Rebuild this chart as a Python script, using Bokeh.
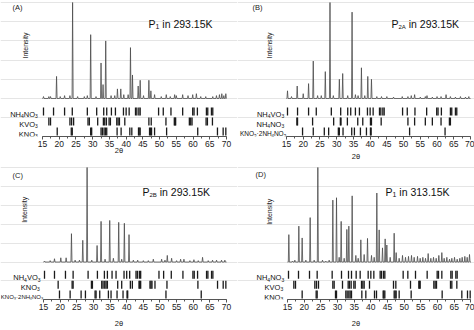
from bokeh.plotting import figure
from bokeh.layouts import gridplot
from bokeh.models import Range1d, SingleIntervalTicker
from bokeh.core.properties import value
from bokeh.embed import file_html
from bokeh.resources import INLINE

# ---------------- data (2theta positions / normalised intensities) ----------------
NH4_ROW = [15.3, 18.3, 21.6, 23.9, 28.4, 31.2, 33.3, 34.2, 35.6, 36.8, 39.2, 40.0, 40.9,
           42.8, 43.2, 43.8, 44.2, 49.7, 51.1, 53.4, 56.9, 59.9, 60.3, 61.3, 64.0, 64.4,
           65.5, 65.9]
KVO3_ROW = [16.9, 17.4, 23.2, 23.7, 24.3, 28.6, 29.0, 31.5, 33.2, 33.6, 34.1, 34.9, 35.3,
            37.2, 37.6, 38.0, 39.6, 46.8, 47.5, 51.9, 54.4, 54.6, 54.8, 58.9, 59.3, 59.7,
            63.9, 64.3, 65.8]
KNO3_ROW = [19.4, 23.6, 23.9, 29.4, 29.7, 32.5, 32.9, 33.4, 33.8, 34.2, 37.3, 38.5, 41.1,
            41.7, 43.7, 43.9, 44.2, 47.0, 47.3, 47.6, 48.5, 52.1, 61.4, 67.3, 69.0, 69.8]
NH4NO3_ROW = [18.1, 18.3, 22.8, 29.1, 31.1, 31.3, 33.2, 36.3, 37.8, 40.1, 40.4, 43.3, 51.3,
              53.3, 56.5, 58.6, 61.2, 63.7, 64.0]
DOUBLE_ROW = [19.8, 23.0, 26.3, 27.6, 30.5, 30.8, 31.9, 34.5, 35.3, 37.1, 38.9, 40.1, 40.3,
              51.8, 62.4]

A_POS = [15.3, 16.9, 17.4, 19.2, 20.3, 21.6, 23.2, 24.0, 25.5, 27.5, 28.4, 29.4, 31.0, 32.5,
         33.1, 33.9, 35.5, 36.6, 37.4, 38.4, 39.3, 40.6, 41.3, 41.9, 43.6, 44.2, 45.2, 46.8,
         47.4, 48.5, 50.5, 52.0, 53.2, 54.5, 55.0, 56.9, 58.5, 59.9, 61.0, 62.3, 63.8, 65.9,
         67.0, 67.9, 68.6, 69.2, 69.8]
A_INT = [0.02, 0.02, 0.02, 0.23, 0.02, 0.03, 0.03, 1.00, 0.02, 0.02, 0.03, 0.665, 0.02, 0.37,
         0.145, 0.60, 0.03, 0.03, 0.10, 0.10, 0.04, 0.04, 0.53, 0.245, 0.13, 0.19, 0.03, 0.19,
         0.08, 0.04, 0.02, 0.04, 0.02, 0.04, 0.03, 0.04, 0.03, 0.04, 0.05, 0.02, 0.02, 0.02,
         0.03, 0.04, 0.05, 0.03, 0.05]

B_POS = [15.3, 16.5, 18.2, 20.0, 21.6, 23.0, 24.3, 25.4, 26.6, 28.0, 29.0, 30.8, 31.8, 33.3,
         34.6, 35.6, 36.4, 37.4, 38.4, 39.3, 40.4, 42.0, 43.4, 45.0, 47.0, 49.6, 51.3, 52.3,
         53.3, 55.0, 56.5, 57.0, 58.6, 60.0, 61.2, 62.7, 64.0, 65.5, 67.0, 68.5, 69.5]
B_INT = [0.08, 0.02, 0.13, 0.05, 0.155, 0.39, 0.03, 0.03, 0.28, 1.00, 0.03, 0.20, 0.26, 0.03,
         0.90, 0.04, 0.03, 0.32, 0.03, 0.23, 0.20, 0.02, 0.02, 0.02, 0.015, 0.02, 0.02, 0.03,
         0.04, 0.015, 0.02, 0.03, 0.015, 0.02, 0.02, 0.04, 0.02, 0.015, 0.02, 0.015, 0.02]

C_POS = [15.3, 17.0, 18.3, 20.2, 21.8, 23.4, 24.5, 25.8, 26.8, 28.1, 29.5, 31.1, 32.3, 33.5,
         34.9, 36.0, 37.6, 38.5, 39.3, 40.7, 42.0, 43.3, 45.0, 46.5, 48.0, 50.5, 51.5, 52.2,
         53.5, 55.0, 56.2, 57.2, 59.0, 60.2, 61.5, 62.8, 64.5, 65.8, 67.0, 68.5, 69.5]
C_INT = [0.01, 0.015, 0.035, 0.045, 0.045, 0.30, 0.02, 0.02, 0.23, 1.00, 0.02, 0.175, 0.43,
         0.03, 0.44, 0.04, 0.42, 0.03, 0.41, 0.29, 0.02, 0.02, 0.015, 0.015, 0.03, 0.03, 0.02,
         0.07, 0.04, 0.015, 0.03, 0.03, 0.015, 0.025, 0.015, 0.05, 0.015, 0.02, 0.02, 0.02,
         0.02]

D_POS = [15.4, 16.5, 17.2, 18.4, 19.4, 20.5, 21.8, 23.0, 24.1, 25.5, 26.5, 27.5, 28.6, 29.7,
         30.5, 31.1, 32.0, 32.8, 33.4, 34.4, 35.5, 36.2, 37.0, 38.0, 39.0, 40.2, 41.0, 41.8,
         42.5, 43.5, 44.3, 44.8, 45.8, 47.0, 47.6, 48.5, 49.5, 50.4, 51.3, 52.2, 53.0, 54.0,
         54.8, 55.6, 56.4, 57.2, 58.0, 58.8, 59.6, 60.4, 61.3, 62.0, 62.8, 63.6, 64.3, 65.1,
         65.9, 66.7, 67.4, 68.2, 68.9, 69.6]
D_INT = [0.29, 0.01, 0.02, 0.38, 0.255, 0.02, 0.47, 0.02, 1.00, 0.02, 0.01, 0.02, 0.655, 0.68,
         0.05, 0.43, 0.04, 0.345, 0.38, 0.70, 0.07, 0.04, 0.235, 0.08, 0.25, 0.07, 0.05, 0.73,
         0.34, 0.15, 0.245, 0.18, 0.05, 0.305, 0.10, 0.04, 0.07, 0.05, 0.06, 0.07, 0.05, 0.06,
         0.04, 0.05, 0.04, 0.09, 0.04, 0.05, 0.04, 0.07, 0.10, 0.04, 0.05, 0.03, 0.04, 0.05,
         0.03, 0.04, 0.05, 0.06, 0.05, 0.08]

TICK_LABELS = {v: str(v) for v in range(15, 71, 5)}

# ---------------- layout / style ----------------
FONT = "Liberation Sans"
PW, PH = 237, 165
FRAME_H = 136
Y0, Y1 = -0.396, 1.021
ROW_Y = [-0.135, -0.240, -0.344]
BAR_H = 0.042
PY = FRAME_H / (Y1 - Y0)

ADV = {'N': 722, 'H': 722, 'O': 778, 'V': 667, 'K': 667, 'P': 667, 'A': 667, 'B': 667,
       ' ': 278, '.': 278, '\u00b7': 278, 'i': 222, 'n': 556, '(': 333, ')': 333}


def tw(s, size):
    return sum(ADV.get(c, 556) for c in s) * size / 1000.0


def rich(p, x, y, parts, size, sub_size, dy, sub_dy, align="left", color="#111111"):
    widths = [tw(t, sub_size if sub else size) for t, sub in parts]
    off = -sum(widths) if align == "right" else 0.0
    for (t, sub), w in zip(parts, widths):
        s = sub_size if sub else size
        lead = len(t) - len(t.lstrip(" "))
        p.text(x=[x], y=[y], text=[t.lstrip(" ")], x_offset=off + tw(" " * lead, s),
               y_offset=(sub_dy if sub else dy),
               text_font=value(FONT), text_font_size=f"{s}px",
               text_align="left", text_baseline="alphabetic", text_color=color)
        off += w


def trace(pos, inten, half=0.16):
    xs, ys = [15.0], [0.0]
    for x, h in zip(pos, inten):
        xs += [x - half, x, x + half]
        ys += [0.0, h, 0.0]
    xs.append(70.0)
    ys.append(0.0)
    return xs, ys


def panel(cfg):
    x0, x1 = cfg["xr"]
    k = PW / (x1 - x0)
    px = lambda v: x0 + v / k
    py = lambda v: Y1 - v / PY
    p = figure(width=PW, height=PH, x_range=Range1d(x0, x1), y_range=Range1d(Y0, Y1),
               output_backend="svg", toolbar_location=None, y_axis_location=None,
               min_border_left=0, min_border_right=0, min_border_top=0,
               min_border_bottom=PH - FRAME_H, outline_line_color=None,
               background_fill_color="white", border_fill_color="white")
    p.xgrid.visible = False
    ax = p.xaxis[0]
    ax.ticker = SingleIntervalTicker(interval=5, num_minor_ticks=2)
    ax.bounds = (15, 70)
    ax.major_label_overrides = TICK_LABELS
    ax.axis_line_color = "#555555"
    ax.major_tick_line_color = "#555555"
    ax.minor_tick_line_color = "#555555"
    ax.major_tick_in = 0
    ax.major_tick_out = 3
    ax.minor_tick_in = 0
    ax.minor_tick_out = 2
    ax.major_label_standoff = 1
    ax.major_label_text_font = FONT
    ax.major_label_text_font_size = "8.5px"
    ax.major_label_text_color = "#222222"
    ax.axis_label = "2\u03b8"
    ax.axis_label_text_font = FONT
    ax.axis_label_text_font_size = "7.5px"
    ax.axis_label_text_font_style = "normal"
    ax.axis_label_text_color = "#222222"
    ax.axis_label_standoff = cfg["std"]

    xs, ys = trace(cfg["pos"], cfg["int"])
    p.line(xs, ys, line_color="#4a4a4a", line_width=0.8)

    for (lab, pos, right, size, sub), yc in zip(cfg["rows"], ROW_Y):
        p.segment(x0=pos, y0=[yc - BAR_H] * len(pos), x1=pos, y1=[yc + BAR_H] * len(pos),
                  line_color="#1a1a1a", line_width=1.3)
        rich(p, right, yc, lab, size, sub, size * 0.36, size * 0.36 + 2.0, align="right")

    lx, ly = cfg["letter_px"]
    p.text(x=[px(lx)], y=[py(ly)], text=[cfg["letter"]], text_font=value(FONT),
           text_font_size="7.5px", text_align="left", text_baseline="middle",
           text_color="#222222")
    ix, iy = cfg["int_px"]
    p.text(x=[px(ix)], y=[py(iy)], text=["Intensity"], angle=1.5708, text_font=value(FONT),
           text_font_size="7px", text_align="center", text_baseline="middle",
           text_color="#222222")
    tx, ty = cfg["title_px"]
    rich(p, px(tx), py(ty), cfg["title"], 10.5, cfg["tsub"], 0, 3.0)
    return p


def lbl(*parts):
    return [(t, s) for t, s in parts]


NH4NO3_L = lbl(("NH", 0), ("4", 1), ("NO", 0), ("3", 1))
NH4VO3_L = lbl(("NH", 0), ("4", 1), ("VO", 0), ("3", 1))
KVO3_L = lbl(("KVO", 0), ("3", 1))
KNO3_L = lbl(("KNO", 0), ("3", 1))
DBL_L = lbl(("KNO", 0), ("3", 1), ("\u00b72NH", 0), ("4", 1), ("NO", 0), ("3", 1))

cfgs = [
    dict(letter="(A)", xr=(2.445, 73.29), letter_px=(12, 7), int_px=(25, 45),
         title=lbl(("P", 0), ("1", 1), (" in 293.15K", 0)), tsub=7, title_px=(148, 23.3),
         pos=A_POS, int=A_INT, std=-4,
         rows=[(NH4NO3_L, NH4_ROW, 13.6, 7.5, 5), (KVO3_L, KVO3_ROW, 13.6, 7.5, 5),
               (KNO3_L, KNO3_ROW, 13.6, 7.5, 5)]),
    dict(letter="(B)", xr=(0.353, 71.2), letter_px=(15, 7), int_px=(32, 45),
         title=lbl(("P", 0), ("2A", 1), (" in 293.15K", 0)), tsub=6, title_px=(154, 23.3),
         pos=B_POS, int=B_INT, std=2,
         rows=[(NH4VO3_L, NH4_ROW, 14.3, 7.5, 5), (NH4NO3_L, NH4NO3_ROW, 14.3, 7.5, 5),
               (DBL_L, DOUBLE_ROW, 14.9, 6.5, 4.5)]),
    dict(letter="(C)", xr=(2.075, 73.3), letter_px=(12, 10), int_px=(24, 45),
         title=lbl(("P", 0), ("2B", 1), (" in 293.15K", 0)), tsub=6, title_px=(142, 27),
         pos=C_POS, int=C_INT, std=6,
         rows=[(NH4VO3_L, NH4_ROW, 14.1, 7.5, 5), (KNO3_L, KNO3_ROW, 13.9, 7.5, 5),
               (DBL_L, DOUBLE_ROW, 14.9, 6.0, 4.0)]),
    dict(letter="(D)", xr=(0.0, 71.1), letter_px=(18, 9), int_px=(32, 47),
         title=lbl(("P", 0), ("1", 1), (" in 313.15K", 0)), tsub=7, title_px=(148, 26.5),
         pos=D_POS, int=D_INT, std=6,
         rows=[(NH4NO3_L, NH4_ROW, 14.0, 7.5, 5), (KVO3_L, KVO3_ROW, 13.7, 7.5, 5),
               (KNO3_L, KNO3_ROW, 13.7, 7.5, 5)]),
]

figs = [panel(c) for c in cfgs]
grid = gridplot([[figs[0], figs[1]], [figs[2], figs[3]]], toolbar_location=None)

open("out.html", "w").write(file_html(grid, INLINE))
